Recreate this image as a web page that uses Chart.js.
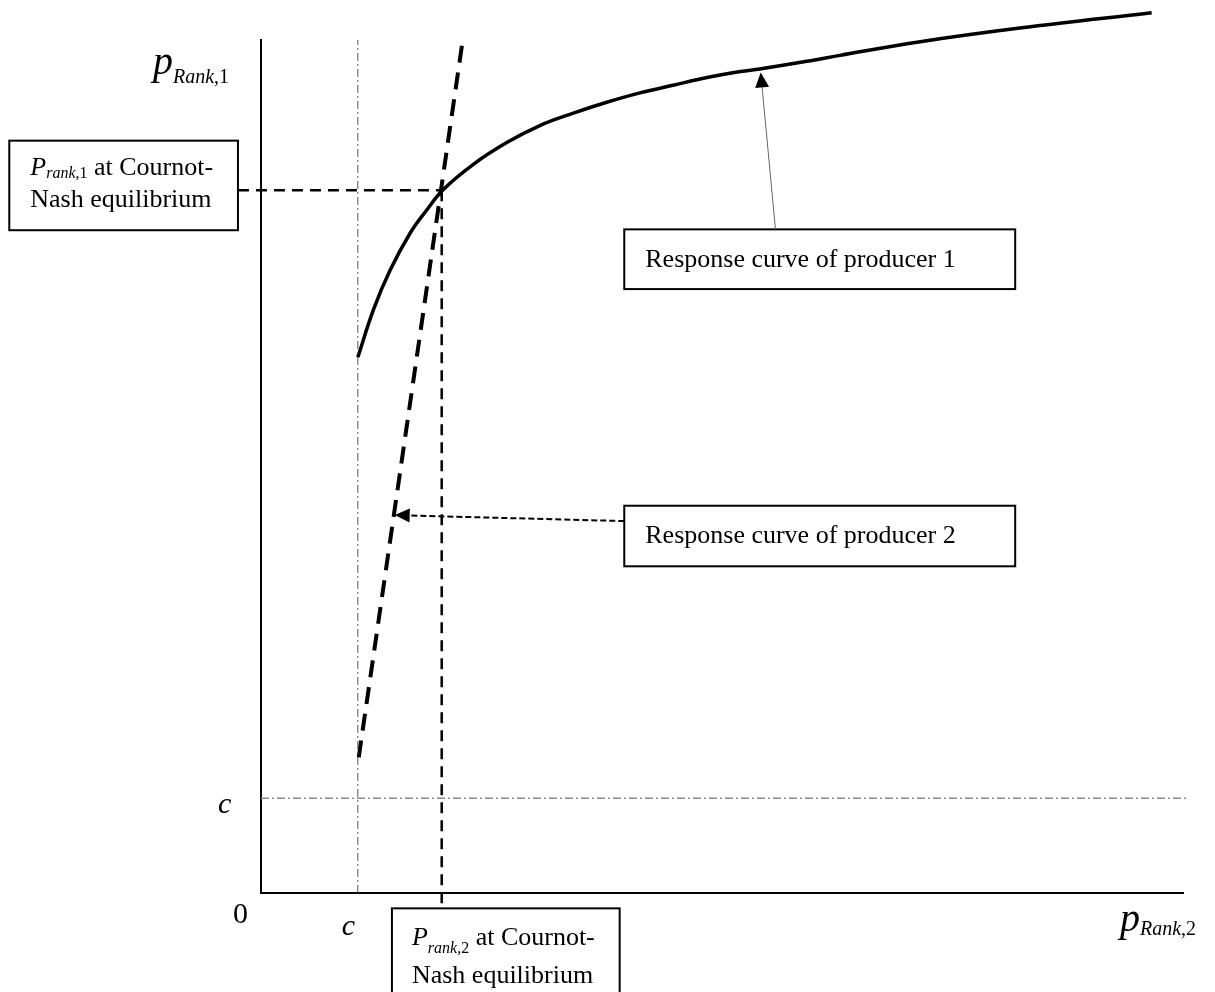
<!DOCTYPE html>
<html>
<head>
<meta charset="utf-8">
<script src="https://cdn.jsdelivr.net/npm/chart.js@4.4.1/dist/chart.umd.min.js"></script>
<style>
    html, body { margin: 0; padding: 0; background: #ffffff; }
    #wrap { width: 1215px; height: 992px; }
</style>
</head>
<body>
<div id="wrap"><canvas id="cournotchart" width="1215" height="992"></canvas></div>
<script>
"use strict";

/* axis units: x = p Rank,2 and y = p Rank,1, both 0..100 */
var cX = 10.5;   // c on the x axis
var cY = 11.1;   // c on the y axis

/* response curve of producer 1 */
var curve1X = [10.5, 12.2, 14.0, 16.2, 18.0, 19.7, 23.0, 26.7, 30.3, 33.8, 37.5, 41.1, 44.7, 48.4, 52.0, 54.1, 59.2, 62.8, 71.5, 82.3, 96.6];
var curve1Y = [62.8, 68.4, 73.0, 77.4, 80.1, 82.4, 85.4, 88.0, 90.0, 91.4, 92.7, 93.8, 94.7, 95.6, 96.3, 96.6, 97.5, 98.2, 99.8, 101.4, 103.2];

/* response curve of producer 2 */
var curve2X = [10.6, 21.8];
var curve2Y = [15.9, 99.4];

/* Cournot-Nash equilibrium */
var eqX = 19.6;
var eqY = 82.4;

/* label boxes, in axis units */
var boxLeft = { x0: -27.3, x1: -2.5, y0: 88.2, y1: 77.7 };
var boxBottom = { x0: 14.2, x1: 38.9, y0: -1.8, y1: -13 };
var boxCurve1 = { x0: 39.4, x1: 81.8, y0: 77.8, y1: 70.8 };
var boxCurve2 = { x0: 39.4, x1: 81.8, y0: 45.4, y1: 38.3 };

var serif = '"Liberation Serif", "Times New Roman", serif';

function pts(xs, ys) {
    return xs.map(function (x, i) { return { x: x, y: ys[i] }; });
}

/* draws text runs one after the other on a line */
function runs(ctx, x, y, list) {
    list.forEach(function (r) {
        ctx.font = r.font;
        ctx.fillText(r.t, x, y + (r.dy || 0));
        x += ctx.measureText(r.t).width;
    });
}

function arrow(ctx, x1, y1, x2, y2, len, half) {
    var a = Math.atan2(y2 - y1, x2 - x1);
    ctx.beginPath();
    ctx.moveTo(x1, y1);
    ctx.lineTo(x2 - Math.cos(a) * len, y2 - Math.sin(a) * len);
    ctx.stroke();
    ctx.setLineDash([]);
    ctx.beginPath();
    ctx.moveTo(x2, y2);
    ctx.lineTo(x2 - Math.cos(a) * len - Math.sin(a) * half, y2 - Math.sin(a) * len + Math.cos(a) * half);
    ctx.lineTo(x2 - Math.cos(a) * len + Math.sin(a) * half, y2 - Math.sin(a) * len - Math.cos(a) * half);
    ctx.closePath();
    ctx.fill();
}

var annotations = {
    id: 'annotations',
    afterDatasetsDraw: function (chart) {
        var ctx = chart.ctx;
        var xs = chart.scales.x, ys = chart.scales.y;
        var px = function (v) { return xs.getPixelForValue(v); };
        var py = function (v) { return ys.getPixelForValue(v); };
        ctx.save();
        ctx.fillStyle = '#000';
        ctx.strokeStyle = '#000';
        ctx.textBaseline = 'alphabetic';

        /* boxes */
        [boxLeft, boxBottom, boxCurve1, boxCurve2].forEach(function (b) {
            var l = px(b.x0), t = py(b.y0), w = px(b.x1) - l, h = py(b.y1) - t;
            ctx.fillStyle = '#fff';
            ctx.fillRect(l, t, w, h);
            ctx.lineWidth = 2;
            ctx.strokeRect(l, t, w, h);
        });
        ctx.fillStyle = '#000';

        var big = '26px ' + serif, bigI = 'italic 26px ' + serif;
        var sub = '16px ' + serif, subI = 'italic 16px ' + serif;

        /* box texts */
        var l = px(boxLeft.x0), t = py(boxLeft.y0);
        runs(ctx, l + 21, t + 34, [
            { t: 'P', font: bigI }, { t: 'rank', font: subI, dy: 3 }, { t: ',1', font: sub, dy: 3 },
            { t: ' at Cournot-', font: big }]);
        runs(ctx, l + 21, t + 66, [{ t: 'Nash equilibrium', font: big }]);

        l = px(boxBottom.x0); t = py(boxBottom.y0);
        runs(ctx, l + 20, t + 37, [
            { t: 'P', font: bigI }, { t: 'rank', font: subI, dy: 8 }, { t: ',2', font: sub, dy: 8 },
            { t: ' at Cournot-', font: big }]);
        runs(ctx, l + 20, t + 75, [{ t: 'Nash equilibrium', font: big }]);

        runs(ctx, px(boxCurve1.x0) + 21, py(boxCurve1.y0) + 38, [{ t: 'Response curve of producer 1', font: big }]);
        runs(ctx, px(boxCurve2.x0) + 21, py(boxCurve2.y0) + 37, [{ t: 'Response curve of producer 2', font: big }]);

        /* axis labels */
        var ox = px(0), oy = py(0);
        runs(ctx, ox - 108, py(100) + 34, [
            { t: 'p', font: 'italic 40px ' + serif }, { t: 'Rank', font: 'italic 20px ' + serif, dy: 9 },
            { t: ',1', font: '20px ' + serif, dy: 9 }]);
        runs(ctx, px(100) - 63, oy + 38, [
            { t: 'p', font: 'italic 40px ' + serif }, { t: 'Rank', font: 'italic 20px ' + serif, dy: 4 },
            { t: ',2', font: '20px ' + serif, dy: 4 }]);
        runs(ctx, ox - 43, py(cY) + 15, [{ t: 'c', font: 'italic 30px ' + serif }]);
        runs(ctx, ox - 28, oy + 30, [{ t: '0', font: '30px ' + serif }]);
        runs(ctx, px(cX) - 16, oy + 42, [{ t: 'c', font: 'italic 30px ' + serif }]);

        /* arrows */
        ctx.lineWidth = 1;
        ctx.strokeStyle = '#666';
        ctx.setLineDash([]);
        arrow(ctx, px(55.8), py(boxCurve1.y0), px(54.2), py(96.2), 15, 7);
        ctx.strokeStyle = '#000';
        ctx.lineWidth = 2;
        ctx.setLineDash([6, 3]);
        arrow(ctx, px(boxCurve2.x0), py(43.6), px(14.5), py(44.3), 15, 7);
        ctx.restore();
    }
};

var cournotchart = document.getElementById('cournotchart').getContext('2d');
var cournotConfig = {
    type: 'scatter',
    data: {
        datasets: [{
            label: 'c (x)',
            data: pts([cX, cX], [0, 100]),
            borderColor: '#555',
            borderWidth: 1,
            borderDash: [8, 3, 2, 3],
        }, {
            label: 'c (y)',
            data: pts([0, 100.4], [cY, cY]),
            borderColor: '#888',
            borderWidth: 1.5,
            borderDash: [8, 3, 2, 3],
        }, {
            label: 'equilibrium p1',
            data: pts([boxLeft.x1, eqX], [eqY, eqY]),
            borderColor: '#000',
            borderWidth: 2.5,
            borderDash: [11, 7],
        }, {
            label: 'equilibrium p2',
            data: pts([eqX, eqX], [eqY, boxBottom.y0]),
            borderColor: '#000',
            borderWidth: 2.5,
            borderDash: [11, 7],
        }, {
            label: 'Response curve of producer 2',
            data: pts(curve2X, curve2Y),
            borderColor: '#000',
            borderWidth: 4,
            borderDash: [17, 10],
        }, {
            label: 'Response curve of producer 1',
            data: pts(curve1X, curve1Y),
            borderColor: '#000',
            borderWidth: 3.5,
            tension: 0.4,
            borderJoinStyle: 'round',
        }]
    },
    options: {
        responsive: false,
        animation: false,
        showLine: true,
        clip: false,
        elements: {
            point: { radius: 0, hoverRadius: 0 },
            line: { fill: false, borderCapStyle: 'butt' }
        },
        layout: {
            padding: { left: 261, right: 32, top: 40, bottom: 99 }
        },
        plugins: {
            legend: { display: false },
            tooltip: { enabled: false },
        },
        scales: {
            x: {
                type: 'linear',
                min: 0,
                max: 100,
                grid: { display: false, drawTicks: false, tickLength: 0 },
                ticks: { display: false },
                border: { display: true, color: '#000', width: 2 },
            },
            y: {
                type: 'linear',
                min: 0,
                max: 100,
                grid: { display: false, drawTicks: false, tickLength: 0 },
                ticks: { display: false },
                border: { display: true, color: '#000', width: 2 },
            }
        }
    },
    plugins: [annotations]
}
var cournotChart = new Chart(cournotchart, cournotConfig);
</script>
</body>
</html>
